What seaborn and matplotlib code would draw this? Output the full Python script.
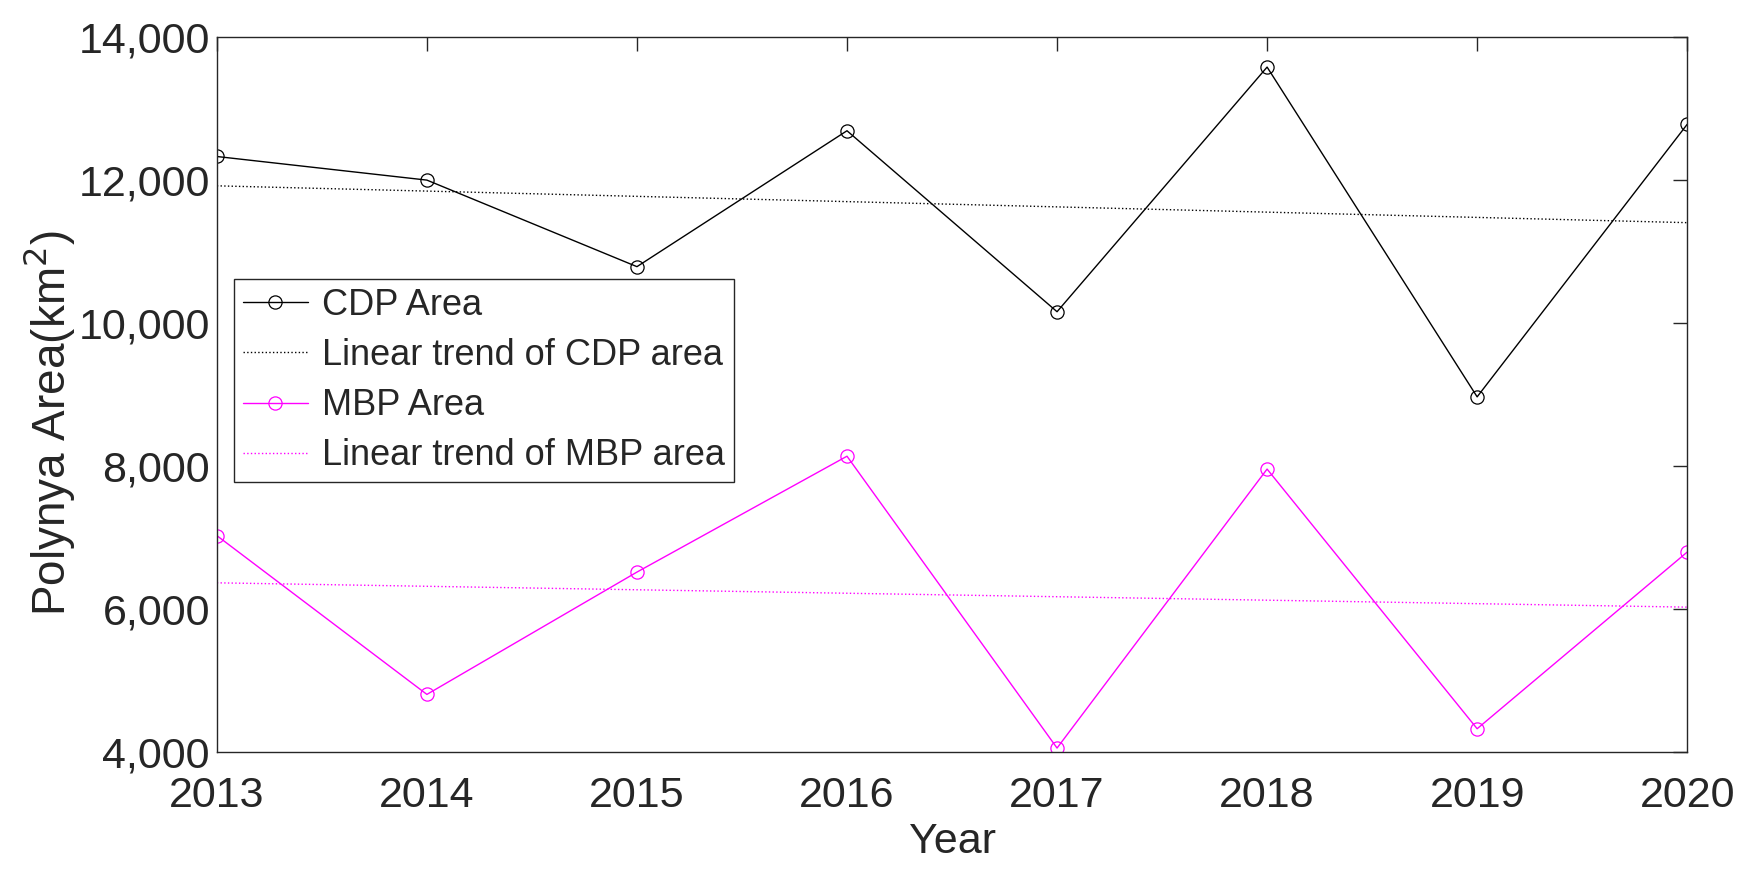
import numpy as np
import pandas as pd
import matplotlib
matplotlib.use("Agg")
import matplotlib.pyplot as plt
import seaborn as sns
from matplotlib.ticker import FuncFormatter


# -------------------------
# DATA
# -------------------------
years = [2013, 2014, 2015, 2016, 2017, 2018, 2019, 2020]
cdp_area = [12330, 12000, 10790, 12690, 10160, 13580, 8970, 12780]
mbp_area = [7030, 4810, 6520, 8140, 4060, 7960, 4330, 6800]

# trend lines (start / end year)
trend_years = [2013, 2020]
cdp_trend = [11920, 11405]
mbp_trend = [6370, 6030]

cdp_color = "#000000"
mbp_color = "#FF00FF"


# -------------------------
# PLOT
# -------------------------
sns.set_style("white")
plt.rcParams["font.family"] = ["Liberation Sans", "DejaVu Sans"]

fig = plt.figure(figsize=(17.63, 8.82), dpi=100)
ax = fig.add_axes([0.123, 0.147, 0.834, 0.811])

df = pd.DataFrame({"Year": years, "CDP": cdp_area, "MBP": mbp_area})
tr = pd.DataFrame({"Year": trend_years, "CDP": cdp_trend, "MBP": mbp_trend})

sns.lineplot(data=df, x="Year", y="CDP", ax=ax, color=cdp_color, lw=1.0,
             marker="o", markersize=9.5, markerfacecolor="none",
             markeredgecolor=cdp_color, markeredgewidth=0.9, label="CDP Area")
sns.lineplot(data=tr, x="Year", y="CDP", ax=ax, color=cdp_color, lw=1.0,
             linestyle=":", label="Linear trend of CDP area")
sns.lineplot(data=df, x="Year", y="MBP", ax=ax, color=mbp_color, lw=1.0,
             marker="o", markersize=9.5, markerfacecolor="none",
             markeredgecolor=mbp_color, markeredgewidth=0.9, label="MBP Area")
sns.lineplot(data=tr, x="Year", y="MBP", ax=ax, color=mbp_color, lw=1.0,
             linestyle=":", label="Linear trend of MBP area")

ax.set_xlim(2013, 2020)
ax.set_ylim(4000, 14000)
ax.set_xticks(years)
ax.set_yticks([4000, 6000, 8000, 10000, 12000, 14000])
ax.yaxis.set_major_formatter(FuncFormatter(lambda v, p: f"{int(v):,}"))

ax.tick_params(direction="in", length=10, width=1, labelsize=31,
               top=True, right=True, colors="#262626", pad=5)
ax.tick_params(axis="x", pad=17)
for s in ax.spines.values():
    s.set_visible(True)
    s.set_color("#262626")
    s.set_linewidth(1.0)

ax.set_xlabel("Year", fontsize=31, color="#262626", labelpad=4)
ax.set_ylabel("Polynya Area(km$^2$)", fontsize=33, color="#262626")
ax.yaxis.set_label_coords(-0.095, 0.46)

leg = ax.legend(loc="upper left", bbox_to_anchor=(0.0115, 0.662),
                fontsize=26, frameon=True, fancybox=False, framealpha=1,
                edgecolor="#262626", handlelength=1.8, borderpad=0.25,
                labelspacing=0.42, handletextpad=0.4, borderaxespad=0)
leg.get_frame().set_linewidth(1.0)

fig.savefig("out.png", dpi=100)
